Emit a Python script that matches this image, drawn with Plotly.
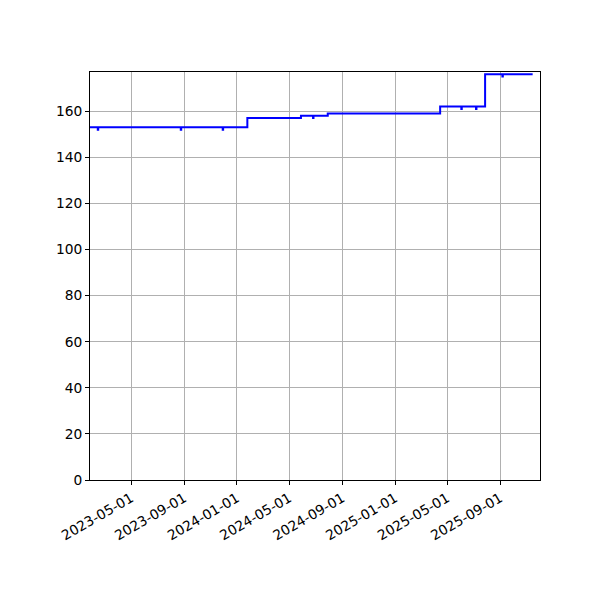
import plotly.graph_objects as go

# change points of the step series (each dip is one day long)
dates = ["2023-01-26", "2023-02-13", "2023-02-14", "2023-08-24", "2023-08-25",
         "2023-11-29", "2023-11-30", "2024-01-25", "2024-05-28", "2024-06-25",
         "2024-06-26", "2024-07-29", "2025-04-15", "2025-06-03", "2025-06-04",
         "2025-07-07", "2025-07-08", "2025-07-28", "2025-09-06", "2025-09-07",
         "2025-11-15"]
values = [153, 152, 153, 152, 153,
          152, 153, 157, 158, 157,
          158, 159, 162, 161, 162,
          161, 162, 176, 175, 176,
          176]

tick_dates = ["2023-05-01", "2023-09-01", "2024-01-01", "2024-05-01",
              "2024-09-01", "2025-01-01", "2025-05-01", "2025-09-01"]
y_ticks = [0, 20, 40, 60, 80, 100, 120, 140, 160]

fig = go.Figure()
fig.add_trace(go.Scatter(x=dates, y=values, mode="lines", line_shape="hv",
                         line=dict(color="#0000ff", width=2), showlegend=False))

axis_common = dict(showline=True, linecolor="black", linewidth=1, mirror=True,
                   ticks="outside", ticklen=4, tickcolor="black",
                   showgrid=True, gridcolor="#b0b0b0", gridwidth=1,
                   zeroline=False, tickfont=dict(family="DejaVu Sans", size=13.8, color="black"))

fig.update_layout(
    width=600, height=600,
    margin=dict(l=82, r=68, t=64, b=128),
    paper_bgcolor="white", plot_bgcolor="white",
    xaxis=dict(range=["2023-01-26", "2025-12-02"], tickvals=tick_dates,
               ticktext=tick_dates, tickangle=-30, **axis_common),
    yaxis=dict(range=[0, 177], tickvals=y_ticks, **axis_common),
)

fig.write_html("out.html")
